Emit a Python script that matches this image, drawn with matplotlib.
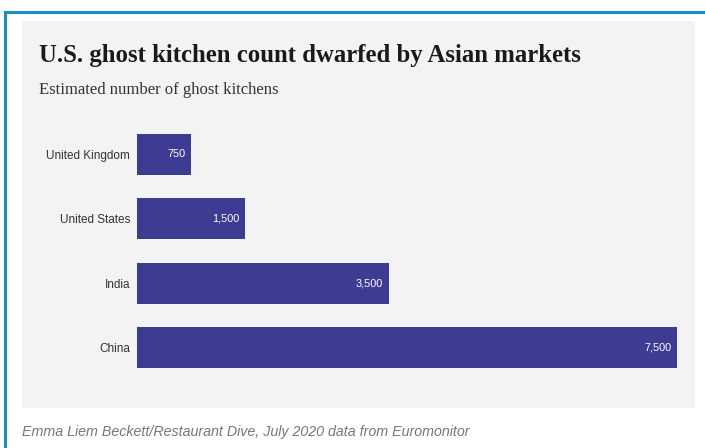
import matplotlib.pyplot as plt
from matplotlib.patches import Rectangle
from matplotlib.lines import Line2D

countries = ['United Kingdom', 'United States', 'India', 'China']
kitchens = [750, 1500, 3500, 7500]
value_labels = ['750', '1,500', '3,500', '7,500']

W, H = 705, 448
fig = plt.figure(figsize=(W / 100, H / 100), dpi=100, facecolor='white')

# grey panel and blue frame
fig.add_artist(Rectangle((22 / W, 1 - 408 / H), (695 - 22) / W, (408 - 21) / H,
                         transform=fig.transFigure, facecolor='#f3f3f3', edgecolor='none', zorder=0))
fig.add_artist(Line2D([5 / W, 1], [1 - 12 / H, 1 - 12 / H], transform=fig.transFigure,
                      color='#1a8fc2', lw=2.2))
fig.add_artist(Line2D([5 / W, 5 / W], [0, 1 - 12 / H], transform=fig.transFigure,
                      color='#1a8fc2', lw=2.2))

fig.text(39 / W, 1 - 62 / H, 'U.S. ghost kitchen count dwarfed by Asian markets',
         family='Liberation Serif', weight='bold', fontsize=17.8, color='#1a1a1a')
fig.text(39 / W, 1 - 94 / H, 'Estimated number of ghost kitchens',
         family='Liberation Serif', fontsize=12, color='#333333')
fig.text(22 / W, 1 - 436 / H, 'Emma Liem Beckett/Restaurant Dive, July 2020 data from Euromonitor',
         family='Liberation Sans', style='italic', fontsize=10.3, color='#777777')

ax = fig.add_axes([137 / W, 1 - 380 / H, 540 / W, (380 - 122) / H])
ax.set_facecolor('none')
ypos = list(range(len(countries)))
ax.barh(ypos, kitchens, height=0.63, color='#3e3b92')
for y, v, lab in zip(ypos, kitchens, value_labels):
    ax.text(v - 80, y, lab, ha='right', va='center', color='white',
            family='Liberation Sans', fontsize=7.8)
ax.set_xlim(0, 7500)
ax.set_ylim(3.5, -0.5)
ax.set_yticks(ypos)
ax.set_yticklabels(countries, family='Liberation Sans', fontsize=8.5, color='#333333')
ax.tick_params(axis='y', length=0, pad=5)
ax.set_xticks([])
for s in ax.spines.values():
    s.set_visible(False)

fig.savefig('out.png', dpi=100)
